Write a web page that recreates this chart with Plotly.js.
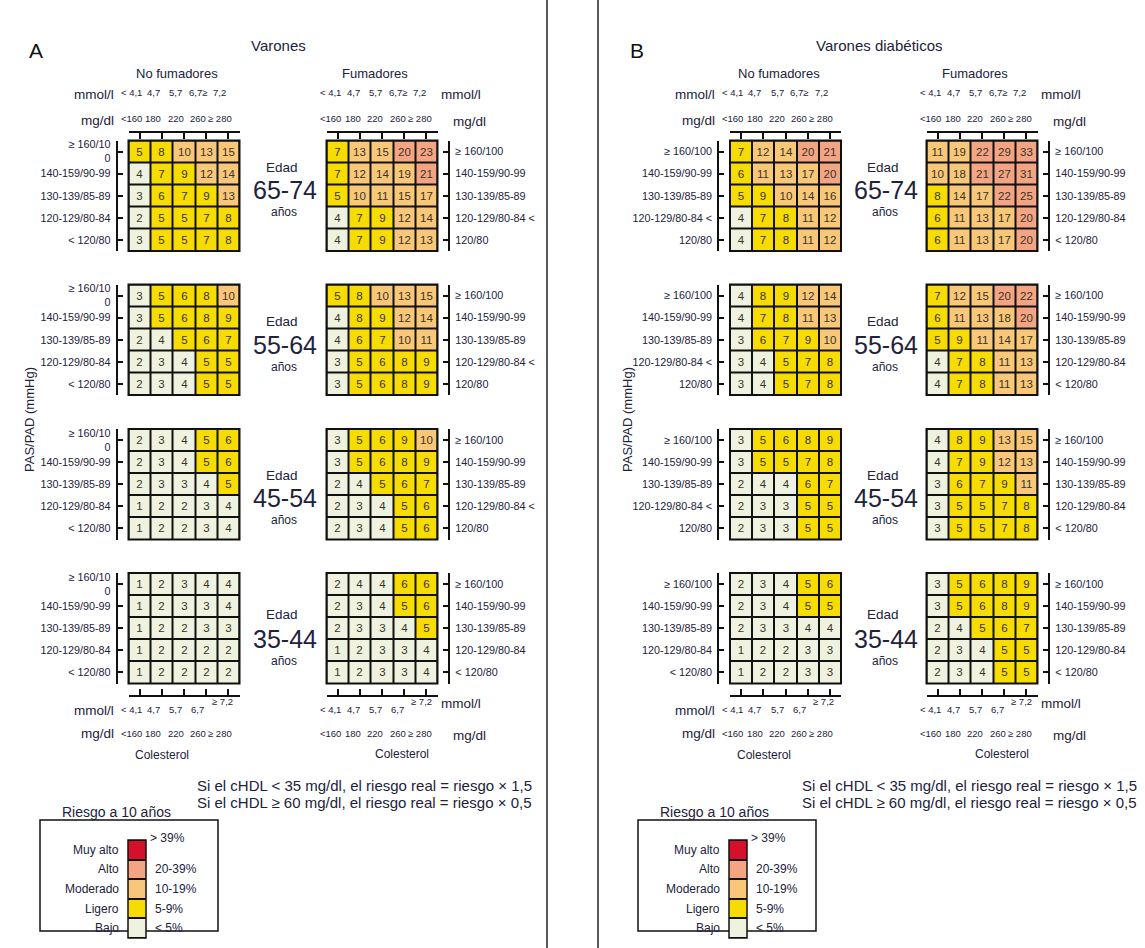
<!DOCTYPE html>
<html><head><meta charset="utf-8">
<script src="https://cdn.plot.ly/plotly-3.0.1.min.js"></script>
<style>html,body{margin:0;padding:0;background:#fff}#chart{width:1145px;height:948px}</style>
</head><body><div id="chart"></div>
<script>
// ---------------- DATA ----------------
const panelLetters = ["A", "B"];
const panelTitles = ["Varones", "Varones diabéticos"];
const smokeGroups = ["No fumadores", "Fumadores"];
const ageGroups = ["65-74", "55-64", "45-54", "35-44"];
const mmolTop = ["< 4,1", "4,7", "5,7", "6,7≥", "7,2"];
const mmolBottom = ["< 4,1", "4,7", "5,7", "6,7", "≥ 7,2"];
const mgdlLabels = ["<160", "180", "220", "260", "≥ 280"];
const bpLabels = ["≥ 160/100", "140-159/90-99", "130-139/85-89", "120-129/80-84", "< 120/80"];
const bpLabelsWrap = ["≥ 160/10<br>0", "140-159/90-99", "130-139/85-89", "120-129/80-84", "< 120/80"];
const bpLabelsSplit = ["≥ 160/100", "140-159/90-99", "130-139/85-89", "120-129/80-84 <", "120/80"];
const riskNames = ["Bajo", "Ligero", "Moderado", "Alto", "Muy alto"];
const riskRanges = ["< 5%", "5-9%", "10-19%", "20-39%", "> 39%"];
const riskLegendTitle = "Riesgo a 10 años";
const hdlNotes = ["Si el cHDL < 35 mg/dl, el riesgo real = riesgo × 1,5",
                  "Si el cHDL ≥ 60 mg/dl, el riesgo real = riesgo × 0,5"];

// Panel A: Varones — rows top->bottom = PAS/PAD categories, cols = colesterol
const A_nf_6574 = [[5,8,10,13,15],[4,7,9,12,14],[3,6,7,9,13],[2,5,5,7,8],[3,5,5,7,8]];
const A_nf_5564 = [[3,5,6,8,10],[3,5,6,8,9],[2,4,5,6,7],[2,3,4,5,5],[2,3,4,5,5]];
const A_nf_4554 = [[2,3,4,5,6],[2,3,4,5,6],[2,3,3,4,5],[1,2,2,3,4],[1,2,2,3,4]];
const A_nf_3544 = [[1,2,3,4,4],[1,2,3,3,4],[1,2,2,3,3],[1,2,2,2,2],[1,2,2,2,2]];
const A_f_6574  = [[7,13,15,20,23],[7,12,14,19,21],[5,10,11,15,17],[4,7,9,12,14],[4,7,9,12,13]];
const A_f_5564  = [[5,8,10,13,15],[4,8,9,12,14],[4,6,7,10,11],[3,5,6,8,9],[3,5,6,8,9]];
const A_f_4554  = [[3,5,6,9,10],[3,5,6,8,9],[2,4,5,6,7],[2,3,4,5,6],[2,3,4,5,6]];
const A_f_3544  = [[2,4,4,6,6],[2,3,4,5,6],[2,3,3,4,5],[1,2,3,3,4],[1,2,3,3,4]];
// Panel B: Varones diabéticos
const B_nf_6574 = [[7,12,14,20,21],[6,11,13,17,20],[5,9,10,14,16],[4,7,8,11,12],[4,7,8,11,12]];
const B_nf_5564 = [[4,8,9,12,14],[4,7,8,11,13],[3,6,7,9,10],[3,4,5,7,8],[3,4,5,7,8]];
const B_nf_4554 = [[3,5,6,8,9],[3,5,5,7,8],[2,4,4,6,7],[2,3,3,5,5],[2,3,3,5,5]];
const B_nf_3544 = [[2,3,4,5,6],[2,3,4,5,5],[2,3,3,4,4],[1,2,2,3,3],[1,2,2,3,3]];
const B_f_6574  = [[11,19,22,29,33],[10,18,21,27,31],[8,14,17,22,25],[6,11,13,17,20],[6,11,13,17,20]];
const B_f_5564  = [[7,12,15,20,22],[6,11,13,18,20],[5,9,11,14,17],[4,7,8,11,13],[4,7,8,11,13]];
const B_f_4554  = [[4,8,9,13,15],[4,7,9,12,13],[3,6,7,9,11],[3,5,5,7,8],[3,5,5,7,8]];
const B_f_3544  = [[3,5,6,8,9],[3,5,6,8,9],[2,4,5,6,7],[2,3,4,5,5],[2,3,4,5,5]];

// ---------------- LAYOUT / STYLE ----------------
const W = 1145, H = 948;
const FONT = "Liberation Sans, Arial, Helvetica, sans-serif";
const TXT = "#22223a";
const LINE = "#111";
const riskColors = ["#eef2df", "#f6dc00", "#f8c878", "#f3a583", "#d5102b"];
const fx = x => x / W, fy = y => 1 - y / H;

const gridLeft = [[128.5, 326.5], [730, 926.5]]; // [panel][smoke]
const gridTop = [140.5, 284.5, 429, 573];
const GW = 111, GH = 110.5;
const panelShift = [0, 601];
const edadY = [[167, 190, 212], [322, 345, 367], [475, 498, 520], [614, 639, 661]];

function riskIdx(v) { return v < 5 ? 0 : v < 10 ? 1 : v < 20 ? 2 : v < 40 ? 3 : 4; }
const colorscale = [];
riskColors.forEach((c, i) => { colorscale.push([i / 5, c]); colorscale.push([(i + 1) / 5, c]); });

const grids = [
  {p:0,s:0,a:0,z:A_nf_6574,lab:bpLabelsWrap},{p:0,s:0,a:1,z:A_nf_5564,lab:bpLabelsWrap},
  {p:0,s:0,a:2,z:A_nf_4554,lab:bpLabelsWrap},{p:0,s:0,a:3,z:A_nf_3544,lab:bpLabelsWrap},
  {p:0,s:1,a:0,z:A_f_6574,lab:bpLabelsSplit},{p:0,s:1,a:1,z:A_f_5564,lab:bpLabelsSplit},
  {p:0,s:1,a:2,z:A_f_4554,lab:bpLabelsSplit},{p:0,s:1,a:3,z:A_f_3544,lab:bpLabels},
  {p:1,s:0,a:0,z:B_nf_6574,lab:bpLabelsSplit},{p:1,s:0,a:1,z:B_nf_5564,lab:bpLabelsSplit},
  {p:1,s:0,a:2,z:B_nf_4554,lab:bpLabelsSplit},{p:1,s:0,a:3,z:B_nf_3544,lab:bpLabels},
  {p:1,s:1,a:0,z:B_f_6574,lab:bpLabels},{p:1,s:1,a:1,z:B_f_5564,lab:bpLabels},
  {p:1,s:1,a:2,z:B_f_4554,lab:bpLabels},{p:1,s:1,a:3,z:B_f_3544,lab:bpLabels}
];

const data = [];
const layout = {
  width: W, height: H, margin: {l:0, r:0, t:0, b:0},
  paper_bgcolor: "#fff", plot_bgcolor: LINE, showlegend: false,
  font: {family: FONT, color: TXT, size: 12},
  annotations: [], shapes: []
};
function ann(text, x, y, size, o) {
  layout.annotations.push(Object.assign({text, x, y, xref:"paper", yref:"paper", showarrow:false,
    xanchor:"center", yanchor:"middle", font:{family:FONT, size, color:TXT}}, o || {}));
}
const cols = [0,1,2,3,4];

grids.forEach((g, k) => {
  const n = k + 1, sfx = n > 1 ? n : "";
  const xs = "x" + sfx, ys = "y" + sfx;
  const x0 = gridLeft[g.p][g.s], y0 = gridTop[g.a];
  data.push({
    type: "heatmap", xaxis: xs, yaxis: ys, x: cols, y: [4,3,2,1,0],
    z: g.z.map(r => r.map(riskIdx)), text: g.z, texttemplate: "%{text}",
    textfont: {family: FONT, size: 11.5, color: "#3a3228"},
    colorscale, zmin: -0.5, zmax: 4.5, showscale: false, xgap: 2, ygap: 2, hoverinfo: "skip"
  });
  const xa = {domain:[fx(x0), fx(x0 + GW)], range:[-0.5, 4.5], fixedrange:true, showgrid:false,
    zeroline:false, showticklabels:false, tickvals:cols};
  const tickStyle = {showline:true, linecolor:LINE, linewidth:2, ticks:"inside", ticklen:6, tickwidth:2, tickcolor:LINE};
  if (g.a === 0) Object.assign(xa, {anchor:"free", position:fy(131.5), side:"top"}, tickStyle);
  else if (g.a === 3) Object.assign(xa, {anchor:"free", position:fy(695.5), side:"bottom"}, tickStyle);
  else Object.assign(xa, {anchor: ys, visible:false});
  layout["xaxis" + sfx] = xa;
  layout["yaxis" + sfx] = {
    domain:[fy(y0 + GH), fy(y0)], range:[-0.5, 4.5], fixedrange:true, showgrid:false, zeroline:false,
    anchor:"free", position: g.s === 0 ? fx(x0 - 11.7) : fx(x0 + GW + 11.7),
    side: g.s === 0 ? "left" : "right",
    showline:true, linecolor:LINE, linewidth:2, ticks:"inside", ticklen:5, tickwidth:2, tickcolor:LINE,
    tickvals:[4,3,2,1,0], ticktext:g.lab, ticklabelstandoff:3,
    tickfont:{family:FONT, size:10.8, color:TXT}
  };
  layout.shapes.push({type:"rect", xref: xs + " domain", yref: ys + " domain", x0:0, x1:1, y0:0, y1:1,
    line:{color:LINE, width:2}, layer:"above"});

  // column labels (cholesterol)
  const off = g.s === 0 ? -0.38 : -0.3;
  if (g.a === 0) {
    cols.forEach(i => {
      ann(mmolTop[i], i + off, fy(93), 9.5, {xref: xs});
      ann(mgdlLabels[i], i + off, fy(119), 9.5, {xref: xs});
    });
    if (g.s === 0) {
      ann("mmol/l", fx(x0 - 13), fy(94), 13.5, {xanchor:"right"});
      ann("mg/dl", fx(x0 - 13), fy(120), 13.5, {xanchor:"right"});
    } else {
      ann("mmol/l", fx(x0 + GW + 1), fy(95), 13.5, {xanchor:"left"});
      ann("mg/dl", fx(x0 + GW + 13), fy(122), 13.5, {xanchor:"left"});
    }
    ann(smokeGroups[g.s], fx(x0 + GW / 2 - 7), fy(73), 13);
  }
  if (g.a === 3) {
    cols.forEach(i => {
      ann(mmolBottom[i], i + off + (i === 4 ? 0.1 : 0), fy(i === 4 ? 701 : 709), 9.5, {xref: xs});
      ann(mgdlLabels[i], i + off, fy(733), 9.5, {xref: xs});
    });
    if (g.s === 0) {
      ann("mmol/l", fx(x0 - 13), fy(710), 13.5, {xanchor:"right"});
      ann("mg/dl", fx(x0 - 13), fy(733), 13.5, {xanchor:"right"});
      ann("Colesterol", fx(x0 + GW / 2 - 22), fy(755), 12);
    } else {
      ann("mmol/l", fx(x0 + GW + 1), fy(703), 13.5, {xanchor:"left"});
      ann("mg/dl", fx(x0 + GW + 13), fy(735), 13.5, {xanchor:"left"});
      ann("Colesterol", fx(x0 + GW / 2 + 20), fy(754), 12);
    }
  }
  // age labels between the two grids
  if (g.s === 0) {
    const mid = (x0 + GW + gridLeft[g.p][1]) / 2;
    ann("Edad", fx(mid - 1), fy(edadY[g.a][0]), 13.5);
    ann(ageGroups[g.a], fx(mid + 2), fy(edadY[g.a][1]), 25);
    ann("años", fx(mid + 1), fy(edadY[g.a][2]), 12);
  }
});

// panel headings, y title, notes, legend
[0, 1].forEach(p => {
  const dx = panelShift[p];
  ann(panelLetters[p], fx(27 + dx), fy(50), 21, {xanchor:"left", font:{family:FONT, size:21, color:"#111"}});
  ann(panelTitles[p], fx(278 + dx), fy(45), 15);
  ann("PAS/PAD (mmHg)", fx(30 + dx - (p ? 3 : 0)), fy(420), 13, {textangle:-90});
  ann(hdlNotes[0], fx(195 + dx + (p ? 4 : 0)), fy(785), 15, {xanchor:"left"});
  ann(hdlNotes[1], fx(195 + dx + (p ? 4 : 0)), fy(802), 15, {xanchor:"left"});

  // legend box and title
  const lx = dx - (p ? 3 : 0);
  layout.shapes.push({type:"rect", xref:"paper", yref:"paper", x0:fx(40 + lx), x1:fx(218 + lx),
    y0:fy(931), y1:fy(820), line:{color:LINE, width:1.5}, layer:"below"});
  ann(riskLegendTitle, fx(60 + lx), fy(812), 14, {xanchor:"left"});

  const n = 17 + p, sfx = n;
  const xs = "x" + sfx, ys = "y" + sfx;
  const bx = 128 + lx + (p ? 3 : 0);
  data.push({type:"heatmap", xaxis:xs, yaxis:ys, x:[0], y:[0,1,2,3,4], z:[[0],[1],[2],[3],[4]],
    colorscale, zmin:-0.5, zmax:4.5, showscale:false, ygap:2, hoverinfo:"skip"});
  layout["xaxis" + sfx] = {domain:[fx(bx), fx(bx + 18)], range:[-0.5, 0.5], anchor:ys, visible:false, fixedrange:true};
  layout["yaxis" + sfx] = {domain:[fy(938), fy(840)], range:[-0.5, 4.5], anchor:xs, visible:false, fixedrange:true};
  layout.shapes.push({type:"rect", xref: xs + " domain", yref: ys + " domain", x0:0, x1:1, y0:0, y1:1,
    line:{color:LINE, width:1.5}, layer:"above"});
  riskNames.forEach((nm, i) => {
    ann(nm, fx(bx - 7), i, 12, {xanchor:"right", yref: ys});
    if (i < 4) ann(riskRanges[i], fx(bx + 25), i, 12, {xanchor:"left", yref: ys});
    else ann(riskRanges[i], fx(bx + 20), fy(838), 12, {xanchor:"left"});
  });
});

// panel separators
[547, 598].forEach(x => layout.shapes.push({type:"line", xref:"paper", yref:"paper", x0:fx(x), x1:fx(x), y0:0, y1:1,
  line:{color:"#222", width:1.5}}));

Plotly.newPlot("chart", data, layout, {staticPlot:true, displayModeBar:false});
</script>
</body></html>
